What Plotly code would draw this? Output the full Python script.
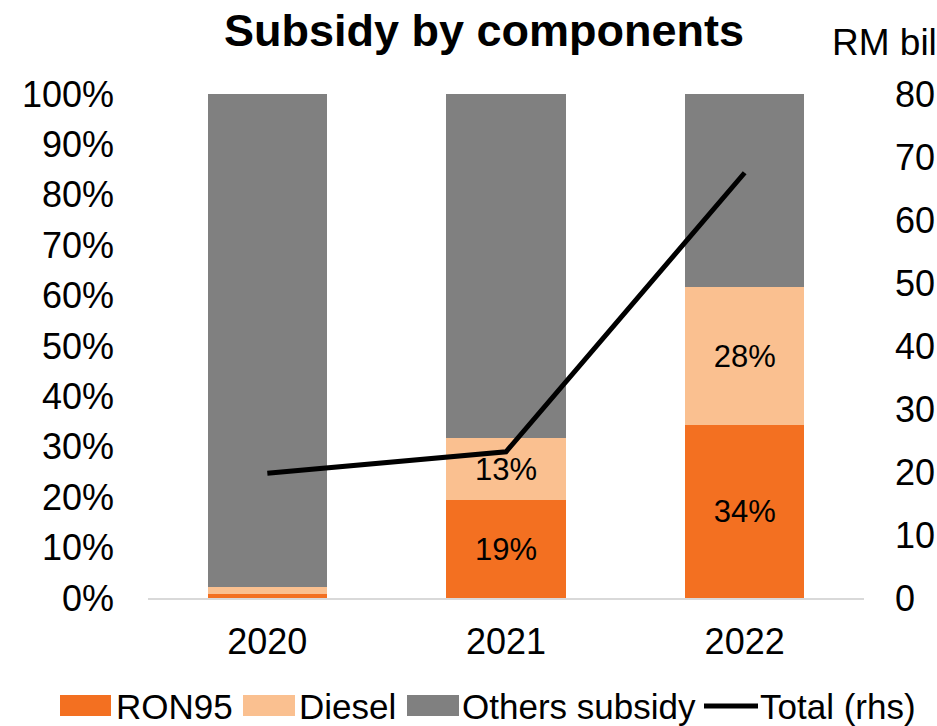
import plotly.graph_objects as go

years = ["2020", "2021", "2022"]
ron95 = [0.008, 0.194, 0.343]
diesel = [0.014, 0.123, 0.274]
others = [0.978, 0.683, 0.383]
ron95_lbl = ["", "19%", "34%"]
diesel_lbl = ["", "13%", "28%"]
total = [19.8, 23.2, 67.5]

series_names = ["RON95", "Diesel", "Others subsidy", "Total (rhs)"]
colors = ["#F37021", "#FAC090", "#808080", "#000000"]

FONT = "Liberation Sans, Arial, sans-serif"

fig = go.Figure()
fig.add_bar(x=years, y=ron95, name=series_names[0], marker=dict(color=colors[0], line=dict(width=0)),
            text=ron95_lbl, textposition="inside", insidetextanchor="middle",
            textfont=dict(color="black", size=31, family=FONT), width=0.5)
fig.add_bar(x=years, y=diesel, name=series_names[1], marker=dict(color=colors[1], line=dict(width=0)),
            text=diesel_lbl, textposition="inside", insidetextanchor="middle",
            textfont=dict(color="black", size=31, family=FONT), width=0.5)
fig.add_bar(x=years, y=others, name=series_names[2], marker=dict(color=colors[2], line=dict(width=0)),
            width=0.5)
fig.add_scatter(x=years, y=total, name=series_names[3], mode="lines", yaxis="y2",
                line=dict(color=colors[3], width=5))

L, R, T, B = 148, 73, 94, 128
W, H = 937, 726
PW, PH = W - L - R, H - T - B


def px(x):
    return (x - L) / PW


def py(y):
    return (H - B - y) / PH


fig.update_layout(
    width=W, height=H,
    barmode="stack",
    plot_bgcolor="white", paper_bgcolor="white",
    margin=dict(l=L, r=R, t=T, b=B, autoexpand=False),
    font=dict(family=FONT, size=36, color="black"),
    uniformtext=dict(minsize=20, mode="show"),
    showlegend=False,
    xaxis=dict(showgrid=False, showline=True, linecolor="#D9D9D9", linewidth=2, automargin=False,
               ticks="", tickfont=dict(size=36), ticklabelstandoff=11),
    yaxis=dict(range=[0, 1], dtick=0.1, tickformat=".0%", showgrid=False, automargin=False,
               zeroline=False, ticks="", tickfont=dict(size=36), ticklabelstandoff=33),
    yaxis2=dict(range=[0, 80], dtick=10, overlaying="y", side="right", showgrid=False,
                automargin=False,
                zeroline=False, ticks="", tickfont=dict(size=36), ticklabelstandoff=30),
)

fig.add_annotation(text="<b>Subsidy by components</b>", xref="paper", yref="paper",
                   x=px(484), y=1, yshift=64, yanchor="middle", showarrow=False,
                   font=dict(size=45, family=FONT))
fig.add_annotation(text="RM bil", xref="paper", yref="paper",
                   x=px(830), xanchor="left", y=1, yshift=52, yanchor="middle", showarrow=False,
                   font=dict(size=37, family=FONT))

# custom legend
leg_y0, leg_y1, leg_yc = 695, 716, 706
sym_x = [(60, 111), (243, 295), (407, 459), (704, 758)]
txt_x = [115, 298, 461, 759]
for i, name in enumerate(series_names):
    x0, x1 = sym_x[i]
    if i < 3:
        fig.add_shape(type="rect", xref="paper", yref="paper",
                      x0=px(x0), x1=px(x1), y0=py(leg_y1), y1=py(leg_y0),
                      fillcolor=colors[i], line=dict(width=0))
    else:
        fig.add_shape(type="line", xref="paper", yref="paper",
                      x0=px(x0), x1=px(x1), y0=py(leg_yc), y1=py(leg_yc),
                      line=dict(color=colors[i], width=5))
    fig.add_annotation(text=name, xref="paper", yref="paper", x=px(txt_x[i]), xanchor="left",
                       y=py(leg_yc), yanchor="middle", showarrow=False,
                       font=dict(size=35, family=FONT), borderpad=0)

fig.write_html("out.html")
